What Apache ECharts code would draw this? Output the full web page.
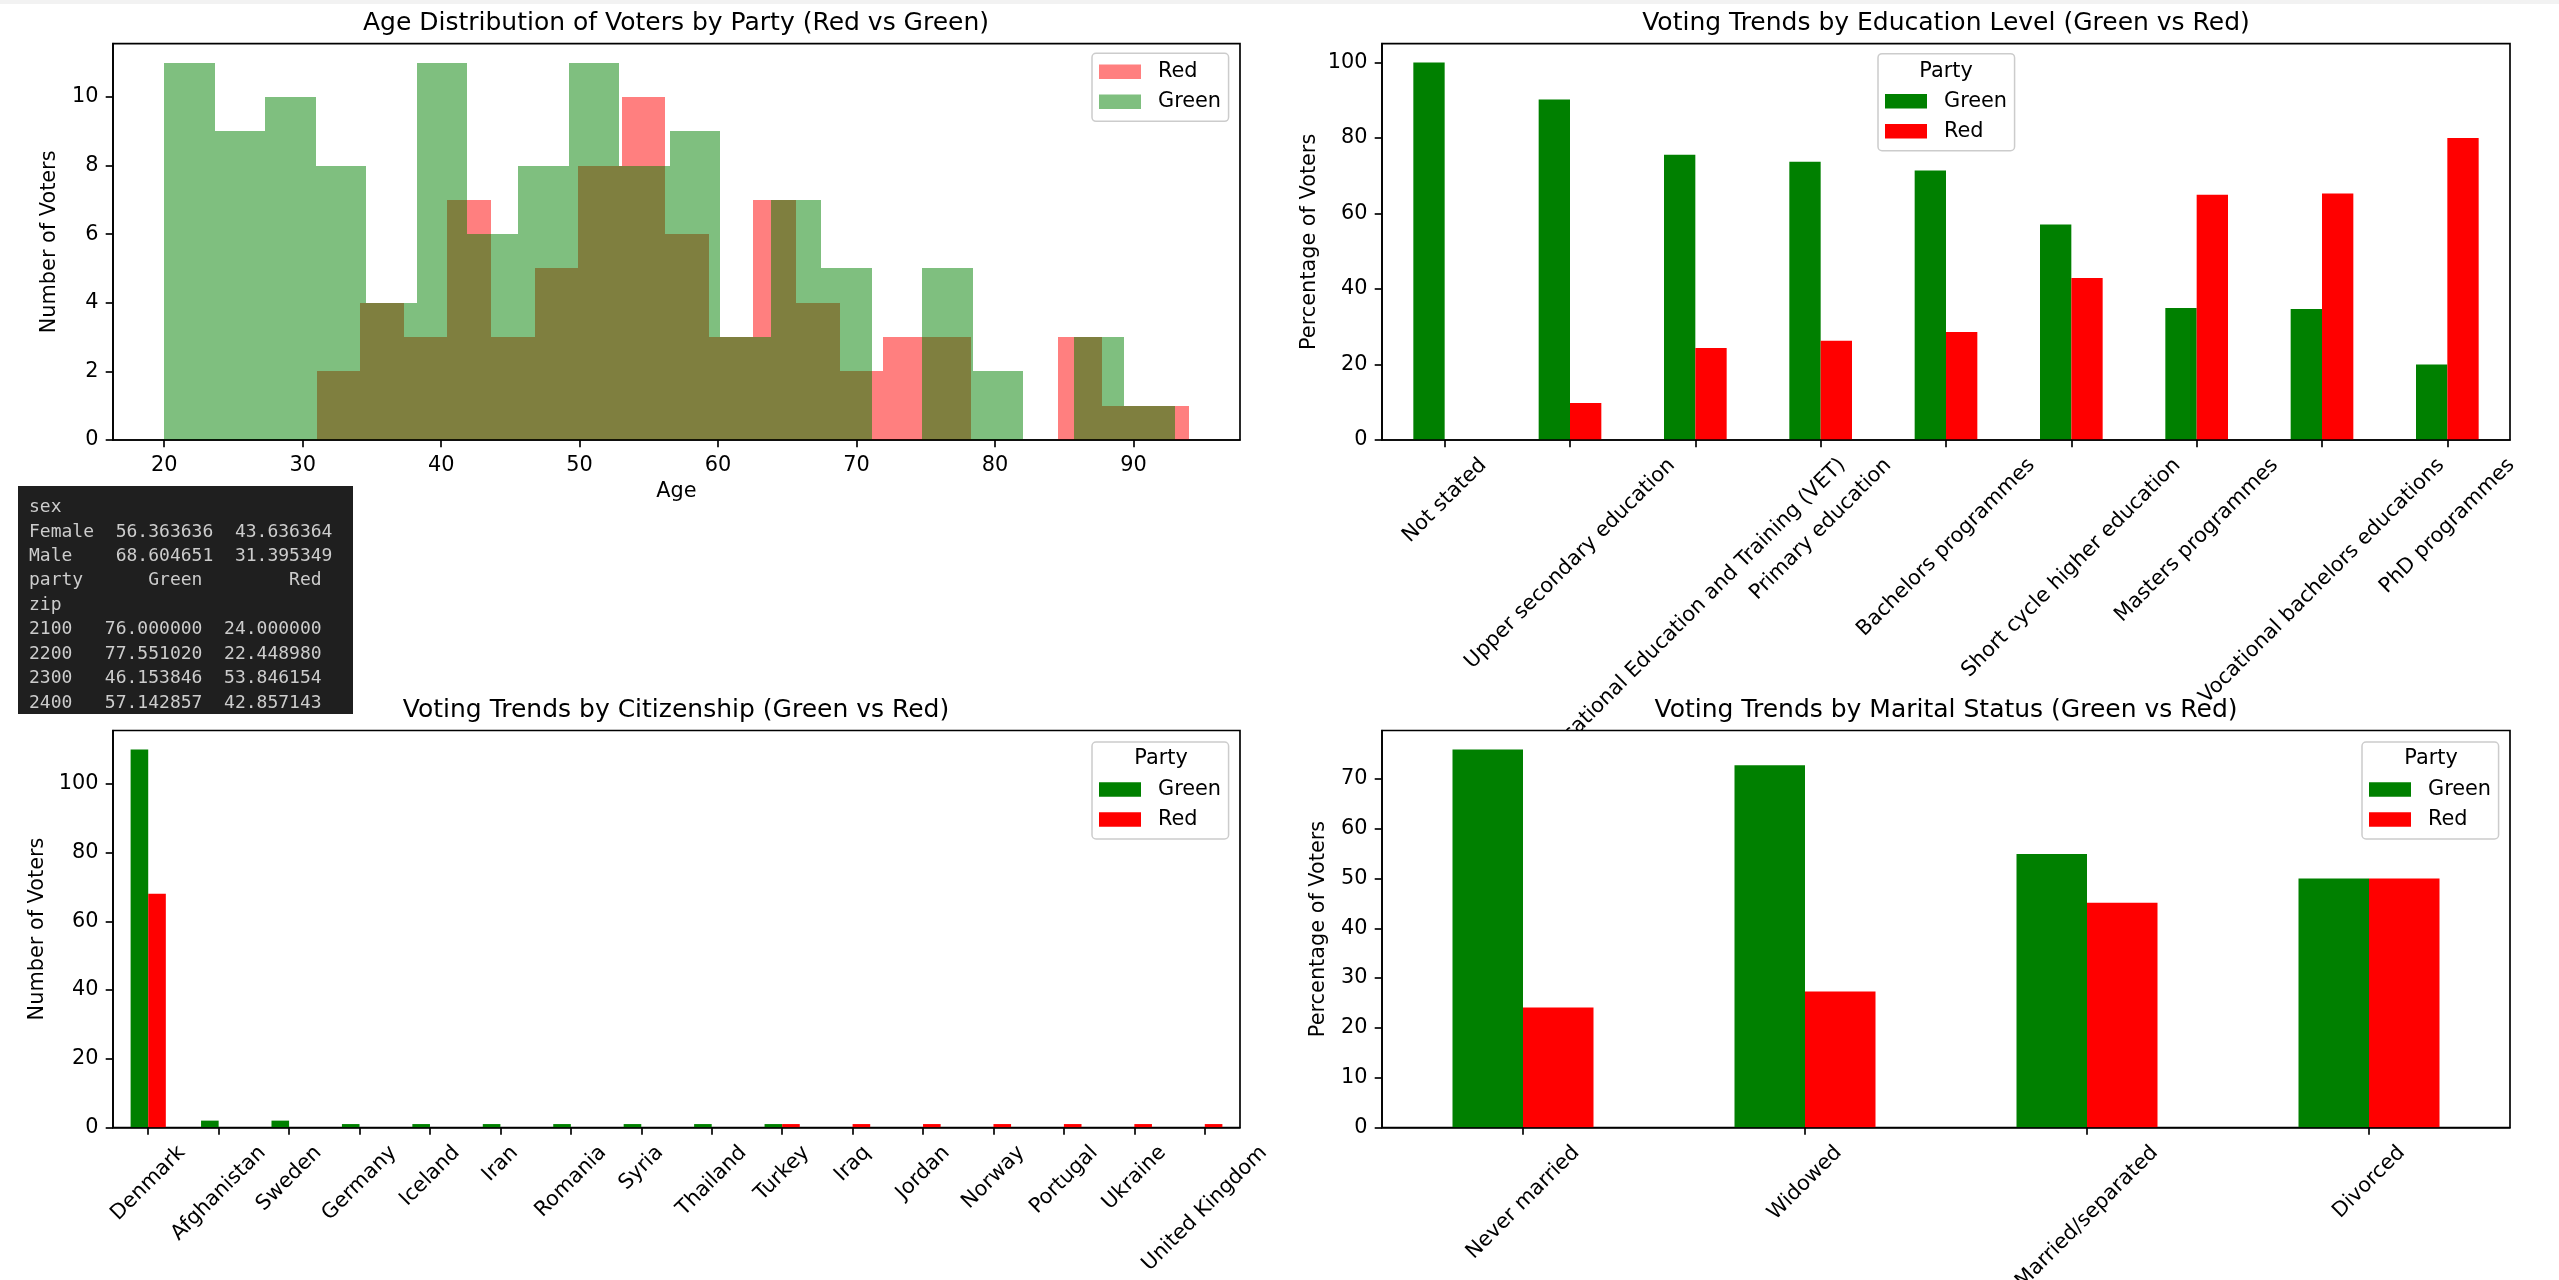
<!DOCTYPE html>
<html>
<head>
<meta charset="utf-8">
<title>Voters by party</title>
<script src="https://cdn.jsdelivr.net/npm/echarts@6/dist/echarts.min.js"></script>
<style>
  html, body { margin: 0; padding: 0; background: #fff; }
  #chart { width: 2559px; height: 1280px; }
</style>
</head>
<body>
<div id="chart"></div>
<script>
// age histogram (20 bins per party)
var redEdges = [31, 34.15, 37.3, 40.45, 43.6, 46.75, 49.9, 53.05, 56.2, 59.35, 62.5,
  65.65, 68.8, 71.95, 75.1, 78.25, 81.4, 84.55, 87.7, 90.85, 94];
var redCounts = [2, 4, 3, 7, 3, 5, 8, 10, 6, 3, 7, 4, 2, 3, 3, 0, 0, 3, 1, 1];
var greenEdges = [20, 23.65, 27.3, 30.95, 34.6, 38.25, 41.9, 45.55, 49.2, 52.85, 56.5,
  60.15, 63.8, 67.45, 71.1, 74.75, 78.4, 82.05, 85.7, 89.35, 93];
var greenCounts = [11, 9, 10, 8, 4, 11, 6, 8, 11, 8, 9, 3, 7, 5, 0, 5, 2, 0, 3, 1];

var eduLevels = ['Not stated', 'Upper secondary education', 'Vocational Education and Training (VET)',
  'Primary education', 'Bachelors programmes', 'Short cycle higher education',
  'Masters programmes', 'Vocational bachelors educations', 'PhD programmes'];
var eduGreen = [100, 90.2, 75.6, 73.7, 71.4, 57.1, 35.0, 34.7, 20.0];
var eduRed = [0, 9.8, 24.4, 26.3, 28.6, 42.9, 65.0, 65.3, 80.0];

var countries = ['Denmark', 'Afghanistan', 'Sweden', 'Germany', 'Iceland', 'Iran', 'Romania', 'Syria',
  'Thailand', 'Turkey', 'Iraq', 'Jordan', 'Norway', 'Portugal', 'Ukraine', 'United Kingdom'];
var citGreen = [110, 2, 2, 1, 1, 1, 1, 1, 1, 1, 0, 0, 0, 0, 0, 0];
var citRed = [68, 0, 0, 0, 0, 0, 0, 0, 0, 1, 1, 1, 1, 1, 1, 1];

var maritalStatus = ['Never married', 'Widowed', 'Married/separated', 'Divorced'];
var marGreen = [75.9, 72.7, 54.9, 50.0];
var marRed = [24.1, 27.3, 45.1, 50.0];

var ageTicks = [20, 30, 40, 50, 60, 70, 80, 90];
var histTicks = [0, 2, 4, 6, 8, 10];
var pctTicks = [0, 20, 40, 60, 80, 100];
var citTicks = [0, 20, 40, 60, 80, 100];
var marTicks = [0, 10, 20, 30, 40, 50, 60, 70];

var summaryLines = [
  'sex',
  'Female  56.363636  43.636364',
  'Male    68.604651  31.395349',
  'party      Green        Red',
  'zip',
  '2100   76.000000  24.000000',
  '2200   77.551020  22.448980',
  '2300   46.153846  53.846154',
  '2400   57.142857  42.857143'
];

var FONT = 'DejaVu Sans';
var FS = 20.83;      // 10pt at 150 dpi
var TITLE_FS = 25;   // 12pt
var TICK = 7.3;
var LW = 1.67;
var GREEN = '#008000';
var RED = '#ff0000';

var measureCtx = document.createElement('canvas').getContext('2d');
measureCtx.font = FS + 'px "DejaVu Sans"';

// 45deg labels centred on the tick, like matplotlib's rot=45
function slantedLabels(names) {
  var rich = {};
  names.forEach(function (n, i) {
    var p = 0.5 * (measureCtx.measureText(n).width + FS);
    rich['l' + i] = { fontFamily: FONT, fontSize: FS, color: '#000', padding: [p, p, 0, 0] };
  });
  return {
    rotate: 45, interval: 0, margin: 2 * TICK, align: 'center', verticalAlign: 'middle',
    formatter: function (v, i) { return '{l' + i + '|' + v + '}'; },
    rich: rich
  };
}

var tickStyle = { lineStyle: { color: '#000', width: LW } };
var lineStyle = { lineStyle: { color: '#000', width: LW } };
var nameStyle = { fontFamily: FONT, fontSize: FS, color: '#000' };

function valueY(grid, max, ticks, name, gap, zl) {
  return {
    type: 'value', gridIndex: grid, min: 0, max: max, z: 3, zlevel: zl || 0,
    name: name, nameLocation: 'middle', nameRotate: 90, nameGap: gap, nameTextStyle: nameStyle,
    axisLine: Object.assign({ show: true }, lineStyle),
    axisTick: Object.assign({ show: true, length: TICK, customValues: ticks }, tickStyle),
    axisLabel: { customValues: ticks, margin: 2 * TICK, fontFamily: FONT, fontSize: FS, color: '#000' },
    splitLine: { show: false }
  };
}

function categoryX(grid, names, zl) {
  return {
    type: 'category', gridIndex: grid, data: names, z: 3, zlevel: zl || 0,
    axisLine: Object.assign({ show: true }, lineStyle),
    axisTick: Object.assign({ show: true, length: TICK, alignWithLabel: true, interval: 0 }, tickStyle),
    axisLabel: slantedLabels(names),
    splitLine: { show: false }
  };
}

function barPair(axis, green, red, zl) {
  return [
    { type: 'bar', name: 'Green', xAxisIndex: axis, yAxisIndex: axis, data: green, zlevel: zl || 0,
      barWidth: '25%', barGap: '0%', itemStyle: { color: GREEN } },
    { type: 'bar', name: 'Red', xAxisIndex: axis, yAxisIndex: axis, data: red, zlevel: zl || 0,
      barWidth: '25%', barGap: '0%', itemStyle: { color: RED } }
  ];
}

function histSeries(name, edges, counts, color) {
  return {
    type: 'custom', name: name, xAxisIndex: 0, yAxisIndex: 0,
    itemStyle: { color: color },
    encode: { x: [0, 1], y: 2 },
    data: counts.map(function (c, i) { return [edges[i], edges[i + 1], c]; }),
    renderItem: function (params, api) {
      // snap to whole pixels so neighbouring bins don't show seams
      var p0 = api.coord([api.value(0), api.value(2)]);
      var p1 = api.coord([api.value(1), 0]);
      var x0 = Math.round(p0[0]), x1 = Math.round(p1[0]);
      var y0 = Math.round(p0[1]), y1 = Math.round(p1[1]);
      return {
        type: 'rect',
        shape: { x: x0, y: y0, width: x1 - x0, height: y1 - y0 },
        style: api.style()
      };
    }
  };
}

function legendBox(left, top, items, padTop, zl) {
  return {
    orient: 'vertical', left: left, top: top, zlevel: zl || 0, z: 5,
    data: items, icon: 'rect', selectedMode: false,
    itemWidth: 42, itemHeight: 14.6, itemGap: 9,
    padding: [padTop, 7.5, 9, 7],
    backgroundColor: 'rgba(255,255,255,0.8)', borderColor: '#cccccc', borderWidth: 1.5, borderRadius: 4,
    formatter: '{t|{name}}',
    textStyle: {
      fontFamily: FONT, fontSize: FS, color: '#000',
      rich: { t: { fontFamily: FONT, fontSize: FS, color: '#000', lineHeight: 21, padding: [0, 0, 0, 12] } }
    }
  };
}

function titleAt(text, cx, top, zl) {
  return {
    text: text, left: cx, top: top, textAlign: 'center', padding: 0, zlevel: zl || 0,
    textStyle: { fontFamily: FONT, fontSize: TITLE_FS, fontWeight: 'normal', color: '#000' }
  };
}

function partyTitle(cx, cy, zl) {
  return {
    type: 'text', x: cx, y: cy, z: 10, zlevel: zl || 0,
    style: { text: 'Party', fontFamily: FONT, fontSize: FS, fill: '#000', align: 'center', verticalAlign: 'middle' }
  };
}

var partyItems = [{ name: 'Green', itemStyle: { color: GREEN } }, { name: 'Red', itemStyle: { color: RED } }];

// fixed axes boxes; labels may run past the canvas edge like the original
var gridBox = {
  show: true, borderColor: '#000', borderWidth: LW, backgroundColor: '#fff',
  containLabel: false, outerBoundsMode: 'none'
};

var chart = echarts.init(document.getElementById('chart'));

var option = {
  animation: false,
  backgroundColor: '#fff',
  title: [
    titleAt('Age Distribution of Voters by Party (Red vs Green)', 676, 10.5),
    titleAt('Voting Trends by Education Level (Green vs Red)', 1946, 10.5),
    titleAt('Voting Trends by Citizenship (Green vs Red)', 676, 698),
    titleAt('Voting Trends by Marital Status (Green vs Red)', 1946, 698, 1)
  ],
  grid: [
    Object.assign({ left: 113, top: 43.7, width: 1127, height: 396.3 }, gridBox),
    Object.assign({ left: 1382, top: 43.7, width: 1128, height: 396.3 }, gridBox),
    Object.assign({ left: 113, top: 730.5, width: 1127, height: 397 }, gridBox),
    // drawn on a higher layer so it hides the long education labels, as in the original
    Object.assign({ left: 1382, top: 730.5, width: 1128, height: 397, zlevel: 1 }, gridBox)
  ],
  xAxis: [
    {
      type: 'value', gridIndex: 0, min: 16.3, max: 97.7, z: 3,
      name: 'Age', nameLocation: 'middle', nameGap: 41, nameTextStyle: nameStyle,
      axisLine: Object.assign({ show: true }, lineStyle),
      axisTick: Object.assign({ show: true, length: TICK, customValues: ageTicks }, tickStyle),
      axisLabel: { customValues: ageTicks, margin: 2 * TICK, fontFamily: FONT, fontSize: FS, color: '#000' },
      splitLine: { show: false }
    },
    categoryX(1, eduLevels),
    categoryX(2, countries),
    categoryX(3, maritalStatus, 1)
  ],
  yAxis: [
    valueY(0, 11.55, histTicks, 'Number of Voters', 52.5),
    valueY(1, 105, pctTicks, 'Percentage of Voters', 61.5),
    valueY(2, 115.5, citTicks, 'Number of Voters', 65),
    valueY(3, 79.7, marTicks, 'Percentage of Voters', 52.5, 1)
  ],
  legend: [
    legendBox(1092, 53.3, [
      { name: 'Red', itemStyle: { color: 'rgba(255,0,0,0.5)' } },
      { name: 'Green', itemStyle: { color: 'rgba(0,128,0,0.5)' } }
    ], 8),
    legendBox(1878, 53.7, partyItems, 37),
    legendBox(1092, 742, partyItems, 37),
    legendBox(2362, 742, partyItems, 37, 1)
  ],
  graphic: [
    { type: 'rect', shape: { x: 0, y: 0, width: 2559, height: 4 }, style: { fill: '#f2f2f2' }, z: 50 },
    partyTitle(1946, 72),
    partyTitle(1161, 758.5),
    partyTitle(2431, 758.5, 1),
    {
      type: 'group', z: 100,
      children: [
        { type: 'rect', shape: { x: 18, y: 486, width: 335, height: 228 }, style: { fill: '#1f1f1f' } },
        {
          type: 'text', x: 29, y: 495.2,
          style: {
            text: summaryLines.join('\n'), fontFamily: 'DejaVu Sans Mono', fontSize: 18,
            lineHeight: 24.45, fill: '#cccccc', align: 'left', verticalAlign: 'top'
          }
        }
      ]
    }
  ],
  series: [
    histSeries('Red', redEdges, redCounts, 'rgba(255,0,0,0.5)'),
    histSeries('Green', greenEdges, greenCounts, 'rgba(0,128,0,0.5)')
  ].concat(barPair(1, eduGreen, eduRed), barPair(2, citGreen, citRed), barPair(3, marGreen, marRed, 1))
};

chart.setOption(option);
window.addEventListener('resize', function () {
  chart.resize();
});
</script>
</body>
</html>
